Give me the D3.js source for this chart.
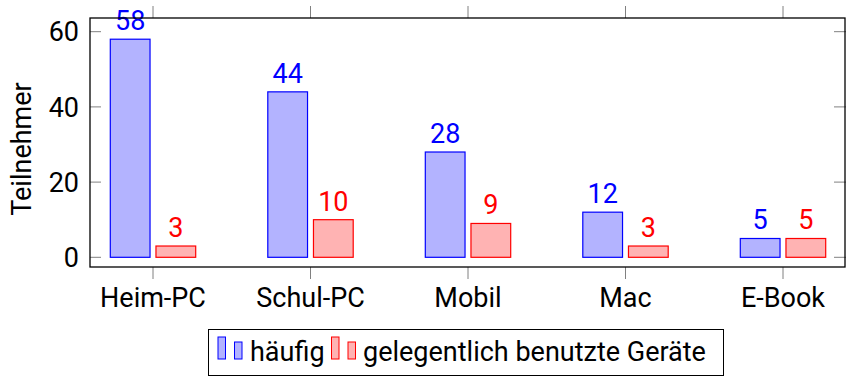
<!DOCTYPE html>
<html>
<head>
<meta charset="utf-8">
<script src="https://cdn.jsdelivr.net/npm/d3@7"></script>
<style>
  body { margin: 0; background: #fff; }
  text { font-family: Roboto, "Noto Sans", sans-serif; }
</style>
</head>
<body>
<div id="chart"></div>
<script>
const categories = ["Heim-PC", "Schul-PC", "Mobil", "Mac", "E-Book"];
const haeufig = [58, 44, 28, 12, 5];
const gelegentlich = [3, 10, 9, 3, 5];
const yTicks = [0, 20, 40, 60];
const seriesNames = ["häufig", "gelegentlich benutzte Geräte"];

const width = 846, height = 377;
const plot = { left: 90, right: 846, top: 18, bottom: 267 };
const fontSize = "27px";

const svg = d3.select("#chart")
    .append("svg")
    .attr("width", width)
    .attr("height", height);

const x = d3.scalePoint()
    .domain(categories)
    .range([plot.left, plot.right])
    .padding(0.4);

const y = d3.scaleLinear()
    .domain([-2.58, 63.64])
    .range([plot.bottom, plot.top]);

const sub = d3.scaleBand()
    .domain(["h", "g"])
    .range([-42.7, 42.7])
    .paddingInner(0.13);

const series = [
    { key: "h", values: haeufig, fill: "#b3b3ff", stroke: "#0000ff" },
    { key: "g", values: gelegentlich, fill: "#ffb3b3", stroke: "#ff0000" }
];

// ticks (gray, pgfplots style)
const tickColor = "#808080";
svg.append("g").selectAll("line.yl")
    .data(yTicks).enter().append("line")
    .attr("x1", plot.left).attr("x2", plot.left + 11)
    .attr("y1", d => y(d)).attr("y2", d => y(d))
    .attr("stroke", tickColor);
svg.append("g").selectAll("line.yr")
    .data(yTicks).enter().append("line")
    .attr("x1", plot.right - 12).attr("x2", plot.right)
    .attr("y1", d => y(d)).attr("y2", d => y(d))
    .attr("stroke", tickColor);
svg.append("g").selectAll("line.xb")
    .data(categories).enter().append("line")
    .attr("x1", d => x(d)).attr("x2", d => x(d))
    .attr("y1", plot.bottom).attr("y2", plot.bottom + 12)
    .attr("stroke", tickColor);
svg.append("g").selectAll("line.xt")
    .data(categories).enter().append("line")
    .attr("x1", d => x(d)).attr("x2", d => x(d))
    .attr("y1", plot.top - 12).attr("y2", plot.top)
    .attr("stroke", tickColor);

// bars
series.forEach(s => {
    svg.append("g").selectAll("rect")
        .data(categories.map((c, i) => ({ c, v: s.values[i] })))
        .enter().append("rect")
        .attr("x", d => x(d.c) + sub(s.key))
        .attr("y", d => y(d.v))
        .attr("width", sub.bandwidth())
        .attr("height", d => y(0) - y(d.v))
        .attr("fill", s.fill)
        .attr("stroke", s.stroke)
        .attr("stroke-width", 1.2);

    svg.append("g").selectAll("text")
        .data(categories.map((c, i) => ({ c, v: s.values[i] })))
        .enter().append("text")
        .attr("x", d => x(d.c) + sub(s.key) + sub.bandwidth() / 2)
        .attr("y", d => y(d.v) - 9)
        .attr("text-anchor", "middle")
        .attr("fill", s.stroke)
        .style("font-size", fontSize)
        .text(d => d.v);
});

// frame
svg.append("rect")
    .attr("x", plot.left).attr("y", plot.top)
    .attr("width", plot.right - plot.left - 1)
    .attr("height", plot.bottom - plot.top)
    .attr("fill", "none")
    .attr("stroke", "#000")
    .attr("stroke-width", 1.3);

// tick labels
svg.append("g").selectAll("text")
    .data(yTicks).enter().append("text")
    .attr("x", 79)
    .attr("y", d => y(d))
    .attr("dy", "0.36em")
    .attr("text-anchor", "end")
    .style("font-size", fontSize)
    .text(d => d);

svg.append("g").selectAll("text")
    .data(categories).enter().append("text")
    .attr("x", d => x(d))
    .attr("y", 307)
    .attr("text-anchor", "middle")
    .style("font-size", fontSize)
    .text(d => d);

// axis label
svg.append("text")
    .attr("transform", "rotate(-90)")
    .attr("x", -149)
    .attr("y", 31)
    .attr("text-anchor", "middle")
    .style("font-size", fontSize)
    .text("Teilnehmer");

// legend
const legend = svg.append("g");
legend.append("rect")
    .attr("x", 208.5).attr("y", 329.5)
    .attr("width", 515).attr("height", 46)
    .attr("fill", "#fff")
    .attr("stroke", "#000")
    .attr("stroke-width", 1);

const legendItems = [
    { name: seriesNames[0], s: series[0], x0: 218, tx: 250 },
    { name: seriesNames[1], s: series[1], x0: 331.5, tx: 363 }
];
legendItems.forEach(it => {
    legend.append("rect")
        .attr("x", it.x0).attr("y", 337)
        .attr("width", 7.5).attr("height", 22)
        .attr("fill", it.s.fill).attr("stroke", it.s.stroke);
    legend.append("rect")
        .attr("x", it.x0 + 16.5).attr("y", 342)
        .attr("width", 7.5).attr("height", 17)
        .attr("fill", it.s.fill).attr("stroke", it.s.stroke);
    legend.append("text").attr("x", it.tx).attr("y", 361)
        .style("font-size", fontSize).text(it.name);
});
</script>
</body>
</html>
